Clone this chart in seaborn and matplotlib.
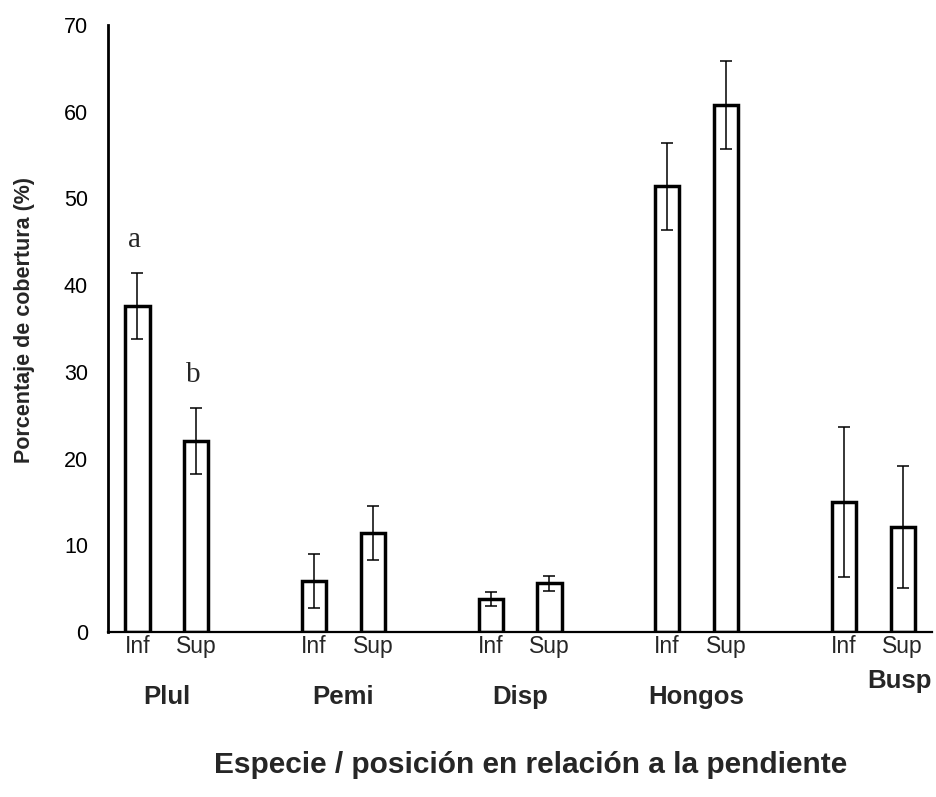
#%% Load dependencies
import numpy as np
import pandas as pd
import seaborn as sns
import matplotlib
matplotlib.use('Agg')
import matplotlib.pyplot as plt
import matplotlib.transforms as mtransforms

#%% data (mean % cover and error)
species = ['Plul', 'Pemi', 'Disp', 'Hongos', 'Busp']
positions = ['Inf', 'Sup']
meanInf = [37.6, 5.9, 3.8, 51.4, 15.0]
meanSup = [22.0, 11.4, 5.6, 60.8, 12.1]
errInf = [3.8, 3.1, 0.8, 5.0, 8.7]
errSup = [3.8, 3.1, 0.9, 5.1, 7.0]
letters = {'Plul_Inf': 'a', 'Plul_Sup': 'b'}

#%% tidy df, one row per bar
rows = []
for i, sp in enumerate(species):
    rows.append({'species': sp, 'pos': 'Inf', 'cover': meanInf[i], 'err': errInf[i]})
    rows.append({'species': sp, 'pos': 'Sup', 'cover': meanSup[i], 'err': errSup[i]})
dfPlot = pd.DataFrame(rows)
dfPlot['slot'] = dfPlot.species + '_' + dfPlot.pos

#slot order with an empty slot between species (excel style gap)
slotOrder = []
for sp in species:
    slotOrder += [sp + '_Inf', sp + '_Sup', sp + '_gap']
slotOrder = slotOrder[:-1]

#%% plot settings
sns.set_style('white')
plt.rcParams['font.family'] = ['Liberation Sans', 'DejaVu Sans']

fig = plt.figure(figsize=(9.37, 7.97), dpi=100)
ax = fig.add_axes([0.1153, 0.207, 0.8794, 0.7616])

sns.barplot(data=dfPlot, x='slot', y='cover', order=slotOrder, color='white',
            edgecolor='black', linewidth=2.5, width=0.41, errorbar=None, ax=ax)
for p in ax.patches:
    p.set_facecolor('white')

xPos = [slotOrder.index(s) for s in dfPlot.slot]
ax.errorbar(xPos, dfPlot.cover, yerr=dfPlot.err, fmt='none', ecolor='black',
            elinewidth=1.1, capsize=4.3, capthick=1.1, zorder=5)

#significance letters
for s, lab in letters.items():
    ax.text(slotOrder.index(s) - 0.05, dfPlot.set_index('slot').loc[s, 'cover'] + 7.6, lab,
            ha='center', va='center', fontsize=21, family=['Liberation Serif', 'DejaVu Serif'])

#%% axes formatting
ax.set_ylim(0, 70)
ax.set_xlim(-0.5, len(slotOrder) - 0.5)
ax.set_yticks(np.arange(0, 71, 10))
ax.tick_params(axis='y', direction='out', length=6.5, width=1, pad=8, labelsize=15.5, colors='black')
ax.tick_params(axis='x', length=0, pad=2)
ax.set_xticks([slotOrder.index(s) for s in dfPlot.slot])
ax.set_xticklabels(dfPlot.pos, fontsize=16.5)
for sp in ['top', 'right']:
    ax.spines[sp].set_visible(False)
ax.spines['left'].set_linewidth(2)
ax.spines['bottom'].set_linewidth(1.6)
ax.spines['left'].set_color('black')
ax.spines['bottom'].set_color('black')

#species names under each pair
trans = mtransforms.blended_transform_factory(ax.transData, ax.transAxes)
for i, sp in enumerate(species):
    if sp == 'Busp':
        ax.text(1.0, -0.08, sp, transform=ax.transAxes, ha='right', va='center',
                fontsize=18.5, fontweight='bold')
    else:
        ax.text(3 * i + 0.5, -0.107, sp, transform=trans, ha='center', va='center',
                fontsize=18.5, fontweight='bold')

ax.set_ylabel('Porcentaje de cobertura (%)', fontsize=15.5, fontweight='bold')
ax.yaxis.set_label_coords(-0.089, 0.514)
ax.set_xlabel('Especie / posición en relación a la pendiente', fontsize=21.5,
              fontweight='bold', va='center')
ax.xaxis.set_label_coords(0.513, -0.219)

plt.savefig('out.png', dpi=100)
plt.close()
